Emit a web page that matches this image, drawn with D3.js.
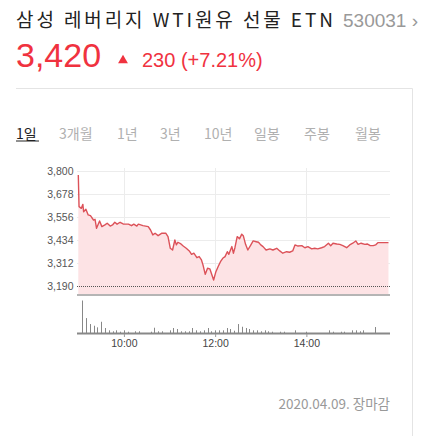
<!DOCTYPE html>
<html>
<head>
<meta charset="utf-8">
<script src="https://cdn.jsdelivr.net/npm/d3@7"></script>
<style>
  html, body { margin: 0; padding: 0; background: #fff; overflow: hidden; }
  svg { display: block; }
  text { font-family: "Liberation Sans", Arial, sans-serif; }
  .kr { font-family: "Noto Sans CJK KR", "Liberation Sans", sans-serif; }
</style>
</head>
<body>
<div id="chart"></div>
<script>
// header info
const stockName = "삼성 레버리지 WTI원유 선물 ETN";
const stockCode = "530031";
const lastPrice = 3420;
const change = 230;
const changePct = "+7.21%";
const prevClose = 3190;
const periodTabs = ["1일", "3개월", "1년", "3년", "10년", "일봉", "주봉", "월봉"];
const dateLabel = "2020.04.09. 장마감";

// price axis ticks
const priceTicks = [3190, 3312, 3434, 3556, 3678, 3800];
const timeTicks = ["10:00", "12:00", "14:00"];

// intraday price
const priceTimes = ["09:00","09:01","09:04","09:06","09:07","09:10","09:13","09:16","09:20","09:22",
  "09:24","09:28","09:31","09:35","09:38","09:42","09:45","09:48","09:51","09:55",
  "09:59","10:06","10:10","10:13","10:17","10:19","10:22","10:25","10:32","10:35",
  "10:38","10:41","10:45","10:50","10:55","10:58","11:01","11:04","11:07","11:09",
  "11:11","11:15","11:18","11:22","11:26","11:29","11:32","11:36","11:39","11:42",
  "11:44","11:47","11:50","11:53","11:55","11:58","12:01","12:04","12:07","12:10",
  "12:13","12:16","12:18","12:22","12:24","12:26","12:29","12:32","12:35","12:37",
  "12:40","12:43","12:47","12:50","12:54","12:57","13:00","13:03","13:07","13:12",
  "13:16","13:21","13:25","13:29","13:34","13:38","13:42","13:45","13:49","13:54",
  "13:58","14:02","14:07","14:11","14:15","14:20","14:24","14:29","14:32","14:35",
  "14:40","14:44","14:48","14:53","14:57","15:01","15:05","15:08","15:12","15:17",
  "15:20","15:24","15:28","15:31","15:34","15:48"];
const priceValues = [3779,3611,3602,3623,3584,3597,3567,3563,3540,3544,
  3496,3535,3505,3514,3523,3508,3514,3528,3518,3528,
  3519,3518,3510,3518,3508,3518,3514,3510,3505,3487,
  3461,3470,3457,3470,3470,3452,3390,3381,3434,3408,
  3422,3413,3402,3390,3376,3358,3364,3340,3346,3328,
  3302,3252,3284,3281,3258,3222,3266,3293,3319,3337,
  3346,3372,3358,3399,3364,3393,3452,3440,3465,3457,
  3411,3381,3408,3429,3425,3422,3408,3399,3381,3387,
  3381,3390,3376,3364,3372,3369,3376,3408,3402,3404,
  3393,3399,3387,3390,3387,3393,3399,3417,3404,3417,
  3413,3411,3404,3393,3408,3417,3429,3411,3417,3411,
  3413,3404,3404,3408,3420,3420];

// 5-minute volume (relative units)
const volumeTimes = ["09:05","09:10","09:15","09:20","09:25","09:30","09:35","09:40","09:45","09:50",
  "09:55","10:00","10:05","10:15","10:20","10:35","10:40","10:45","10:50","11:00",
  "11:05","11:10","11:15","11:20","11:25","11:30","11:35","11:40","11:45","11:50",
  "11:55","12:00","12:05","12:10","12:15","12:20","12:25","12:30","12:35","12:40",
  "12:45","12:50","12:55","13:00","13:05","13:10","13:15","13:25","13:30","13:45",
  "14:00","14:30","14:35","14:45","14:50","15:00","15:05","15:10","15:15","15:30"];
const volumeValues = [327,150,90,73,57,113,50,27,17,27,
  13,27,13,17,17,13,53,17,17,27,
  50,40,17,17,17,50,27,17,27,50,
  17,27,27,27,50,40,23,90,63,50,
  40,27,27,17,27,17,13,13,13,27,
  13,27,13,13,13,27,27,17,27,60];

const W = 421, H = 436;
const red = "#f0323f";

const svg = d3.select("#chart").append("svg")
  .attr("width", W).attr("height", H);

// header
const title = svg.append("text").attr("x", 16).attr("y", 26.5);
title.append("tspan").attr("class", "kr")
  .attr("font-size", 19).attr("fill", "#222")
  .attr("textLength", 317).attr("lengthAdjust", "spacing")
  .text(stockName);
svg.append("text").attr("x", 343).attr("y", 26.5)
  .attr("font-size", 19).attr("fill", "#999")
  .text(stockCode + " ›");

svg.append("text").attr("x", 16).attr("y", 67)
  .attr("font-size", 34).attr("fill", red)
  .text(d3.format(",")(lastPrice));
svg.append("path")
  .attr("d", d3.symbol(d3.symbolTriangle, 42)())
  .attr("transform", "translate(123,60.5) rotate(0)")
  .attr("fill", red);
svg.append("text").attr("x", 142).attr("y", 67)
  .attr("font-size", 20).attr("fill", red)
  .text(`${change} (${changePct})`);

// separators
svg.append("line").attr("x1", 16).attr("x2", 412.5).attr("y1", 88.5).attr("y2", 88.5)
  .attr("stroke", "#e4e4e4");
svg.append("line").attr("x1", 412.5).attr("x2", 412.5).attr("y1", 88.5).attr("y2", H)
  .attr("stroke", "#e4e4e4");

// period tabs
const tabX = [16, 59, 117, 160, 204, 254, 304, 355];
const tabs = svg.append("g");
tabs.selectAll("text").data(periodTabs).join("text")
  .attr("class", "kr")
  .attr("x", (d, i) => tabX[i]).attr("y", 139)
  .attr("font-size", 14)
  .attr("fill", (d, i) => i === 0 ? "#222" : "#b0b0b0")
  .text(d => d);
tabs.append("line").attr("x1", 16).attr("x2", 39).attr("y1", 141).attr("y2", 141)
  .attr("stroke", "#222").attr("stroke-width", 1);

// scales
const parseT = d3.timeParse("%H:%M");
const x = d3.scaleTime()
  .domain([parseT("09:00"), parseT("15:50")])
  .range([78.3, 390]);
const y = d3.scaleLinear().domain([3190, 3800]).range([286, 171]);
const plotLeft = 77, plotRight = 390, plotTop = 168, plotBottom = 295;

const prices = priceTimes.map((t, i) => ({ t: parseT(t), v: priceValues[i] }));
const volumes = volumeTimes.map((t, i) => ({ t: parseT(t), v: volumeValues[i] }));

// grid
const grid = svg.append("g");
grid.selectAll(".hg").data(priceTicks.filter(d => d !== prevClose)).join("line")
  .attr("x1", plotLeft).attr("x2", plotRight)
  .attr("y1", d => Math.round(y(d)) + 0.5).attr("y2", d => Math.round(y(d)) + 0.5)
  .attr("stroke", "#ececec");
grid.selectAll(".vg").data(timeTicks).join("line")
  .attr("x1", d => Math.round(x(parseT(d))) + 0.5).attr("x2", d => Math.round(x(parseT(d))) + 0.5)
  .attr("y1", plotTop).attr("y2", plotBottom)
  .attr("stroke", "#ececec");

// area and line
const area = d3.area().x(d => x(d.t)).y0(plotBottom).y1(d => y(d.v));
const line = d3.line().x(d => x(d.t)).y(d => y(d.v));
svg.append("path").datum(prices).attr("d", area)
  .attr("fill", "#fde3e5");
svg.append("path").datum(prices).attr("d", line)
  .attr("fill", "none").attr("stroke", "#dc5259").attr("stroke-width", 1.4)
  .attr("stroke-linejoin", "round");

// previous close dotted line
svg.append("line")
  .attr("x1", plotLeft).attr("x2", plotRight)
  .attr("y1", Math.round(y(prevClose)) + 0.5).attr("y2", Math.round(y(prevClose)) + 0.5)
  .attr("stroke", "#555").attr("stroke-dasharray", "1,1");

// y labels
svg.append("g").selectAll("text").data(priceTicks).join("text")
  .attr("x", 73.5).attr("y", d => y(d) + 3.5)
  .attr("text-anchor", "end").attr("font-size", 10.5).attr("fill", "#555")
  .text(d => d3.format(",")(d));

// divider between price and volume
svg.append("rect").attr("x", plotLeft).attr("y", 294).attr("width", plotRight - plotLeft).attr("height", 2)
  .attr("fill", "#b5b5b5");

// volume
const yv = d3.scaleLinear().domain([0, d3.max(volumeValues)]).range([333, 300.5]);
svg.append("g").selectAll("line").data(volumes).join("line")
  .attr("x1", d => Math.round(x(d.t)) + 0.5).attr("x2", d => Math.round(x(d.t)) + 0.5)
  .attr("y1", 333).attr("y2", d => yv(d.v))
  .attr("stroke", "#888").attr("stroke-width", 1);
svg.append("rect").attr("x", plotLeft).attr("y", 332.5).attr("width", plotRight - plotLeft).attr("height", 2)
  .attr("fill", "#888");

// time axis
const xAxis = svg.append("g").attr("transform", "translate(0,334)")
  .call(d3.axisBottom(x).tickValues(timeTicks.map(parseT)).tickSize(3).tickFormat(d3.timeFormat("%H:%M")));
xAxis.select(".domain").remove();
xAxis.selectAll(".tick line").attr("stroke", "#999");
xAxis.selectAll("text").attr("font-size", 10.5).attr("fill", "#444")
  .attr("font-family", "Liberation Sans, Arial, sans-serif").attr("dy", "0.95em").attr("y", 3);

// footer date
svg.append("text").attr("class", "kr")
  .attr("x", 390).attr("y", 408.5).attr("text-anchor", "end")
  .attr("font-size", 13.5).attr("fill", "#999")
  .text(dateLabel);
</script>
</body>
</html>
